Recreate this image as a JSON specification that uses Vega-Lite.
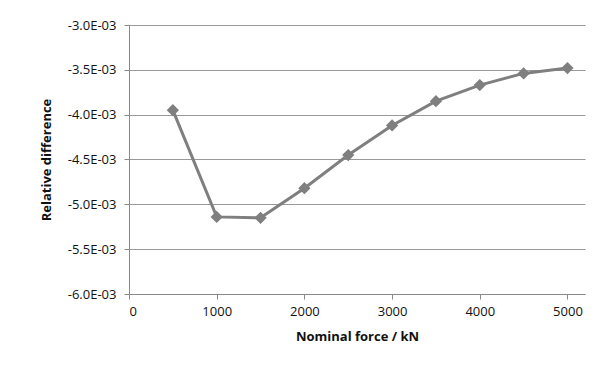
{
  "$schema": "https://vega.github.io/schema/vega-lite/v6.json",
  "width": 456,
  "height": 269,
  "autosize": {"type": "none"},
  "padding": {"left": 129, "top": 25, "right": 25, "bottom": 75},
  "background": "white",
  "config": {"view": {"stroke": null}, "font": "Open Sans"},
  "data": {"values": [
    {"force": 500, "diff": -0.00395},
    {"force": 1000, "diff": -0.00514},
    {"force": 1500, "diff": -0.00515},
    {"force": 2000, "diff": -0.00482},
    {"force": 2500, "diff": -0.00445},
    {"force": 3000, "diff": -0.00412},
    {"force": 3500, "diff": -0.00385},
    {"force": 4000, "diff": -0.00367},
    {"force": 4500, "diff": -0.00354},
    {"force": 5000, "diff": -0.00348}
  ]},
  "mark": {"type": "line", "color": "#7f7f7f", "strokeWidth": 3, "point": {"shape": "diamond", "size": 150, "color": "#7f7f7f", "filled": true, "opacity": 1}},
  "encoding": {
    "x": {"field": "force", "type": "quantitative", "title": "Nominal force / kN",
      "scale": {"domain": [0, 5200], "nice": false},
      "axis": {"values": [0, 1000, 2000, 3000, 4000, 5000], "format": "d", "grid": false, "domainColor": "#888888", "tickColor": "#888888", "tickSize": 5,
        "labelFontSize": 13, "labelColor": "#111111", "labelPadding": 6, "titleFontSize": 13, "titleFontWeight": "bold", "titleColor": "#111111", "titlePadding": 12}},
    "y": {"field": "diff", "type": "quantitative", "title": "Relative difference",
      "scale": {"domain": [-0.006, -0.003], "nice": false, "zero": false},
      "axis": {"values": [-0.006, -0.0055, -0.005, -0.0045, -0.004, -0.0035, -0.003],
        "labelExpr": "replace(replace(format(datum.value, '.1e'), 'e-', 'E-0'), '\u2212', '-')",
        "grid": true, "gridColor": "#999999", "gridWidth": 1, "domainColor": "#888888", "tickColor": "#888888", "tickSize": 5,
        "labelFontSize": 13, "labelColor": "#111111", "labelPadding": 8, "titleFontSize": 13, "titleFontWeight": "bold", "titleColor": "#111111", "titlePadding": 14}}
  }
}
